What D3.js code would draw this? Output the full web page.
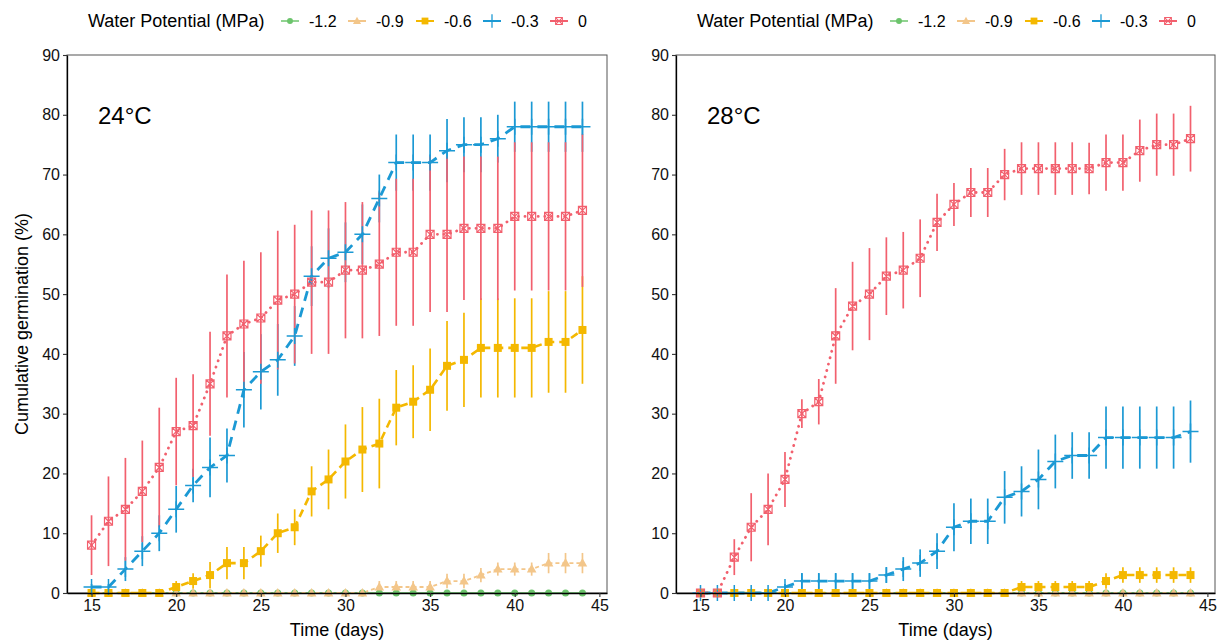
<html>
<head>
<meta charset="utf-8">
<script src="https://d3js.org/d3.v7.min.js"></script>
<style>
body { margin: 0; background: white; }
svg { font-family: Arial, "Liberation Sans", sans-serif; }
</style>
</head>
<body>
<svg id="chart" width="1222" height="641"></svg>
<script>
// days on the x axis
var days = [15,16,17,18,19,20,21,22,23,24,25,26,27,28,29,30,31,32,33,34,35,36,37,38,39,40,41,42,43,44];
var potentials = ['-1.2', '-0.9', '-0.6', '-0.3', '0'];
var xTicks = [15, 20, 25, 30, 35, 40, 45];
var yTicks = [0, 10, 20, 30, 40, 50, 60, 70, 80, 90];

// 24 C
var m24_12 = [0,0,0,0,0,0,0,0,0,0,0,0,0,0,0,0,0,0,0,0,0,0,0,0,0,0,0,0,0,0];
var e24_12 = [0,0,0,0,0,0,0,0,0,0,0,0,0,0,0,0,0,0,0,0,0,0,0,0,0,0,0,0,0,0];
var m24_09 = [0,0,0,0,0,0,0,0,0,0,0,0,0,0,0,0,0,1,1,1,1,2,2,3,4,4,4,5,5,5];
var e24_09 = [0,0,0,0,0,0,0,0,0,0,0,0,0,0,0,0,0,1,1,1,1,1.2,1.2,1.2,1.1,1.1,1.1,1.7,1.7,1.7];
var m24_06 = [0,0,0,0,0,1,2,3,5,5,7,10,11,17,19,22,24,25,31,32,34,38,39,41,41,41,41,42,42,44];
var e24_06 = [0,0,0,0,0,1,1.3,2.2,2.7,2.7,2.6,3.3,3,4.2,5,6.2,7.1,7.5,6.3,6.1,6.9,7.5,7.9,8.3,8.3,8.3,8.3,8.5,8.5,9];
var m24_03 = [1,1,4,7,10,14,18,21,23,34,37,39,43,53,56,57,60,66,72,72,72,74,75,75,76,78,78,78,78,78];
var e24_03 = [0.5,0.5,2,2.5,3,3.9,2.8,5,4.5,6.3,6.3,6,5,5,5,5,5,4,4.7,4.7,4.7,5.3,4.6,4.6,4,4.2,4.2,4.2,4.2,4.2];
var m24_0 = [8,12,14,17,21,27,28,35,43,45,46,49,50,52,52,54,54,55,57,57,60,60,61,61,61,63,63,63,63,64];
var e24_0 = [5,7.5,8.6,8.5,10,9,8.6,8.7,10.3,10.6,11,11.6,11.6,12,12,11.4,11.4,12,12.3,12.3,13,13,12,12,12,12.4,12.4,12.4,12.4,12.8];

// 28 C
var m28_12 = [0,0,0,0,0,0,0,0,0,0,0,0,0,0,0,0,0,0,0,0,0,0,0,0,0,0,0,0,0,0];
var e28_12 = [0,0,0,0,0,0,0,0,0,0,0,0,0,0,0,0,0,0,0,0,0,0,0,0,0,0,0,0,0,0];
var m28_09 = [0,0,0,0,0,0,0,0,0,0,0,0,0,0,0,0,0,0,0,0,0,0,0,0,0,0,0,0,0,0];
var e28_09 = [0,0,0,0,0,0,0,0,0,0,0,0,0,0,0,0,0,0,0,0,0,0,0,0,0,0,0,0,0,0];
var m28_06 = [0,0,0,0,0,0,0,0,0,0,0,0,0,0,0,0,0,0,0,1,1,1,1,1,2,3,3,3,3,3];
var e28_06 = [0,0,0,0,0,0,0,0,0,0,0,0,0,0,0,0,0,0,0,1,1,1,1,1,1.3,1.3,1.3,1.3,1.3,1.3];
var m28_03 = [0,0,0,0,0,1,2,2,2,2,2,3,4,5,7,11,12,12,16,17,19,22,23,23,26,26,26,26,26,27];
var e28_03 = [0,0,0,0,0,0.5,1.3,1.3,1.3,1.3,1.3,1.3,2,2.3,3,4,3.8,3.8,4.4,4.2,5,4.5,3.9,3.9,5.2,5.2,5.2,5.2,5.2,5.2];
var m28_0 = [0,0,6,11,14,19,30,32,43,48,50,53,54,56,62,65,67,67,70,71,71,71,71,71,72,72,74,75,75,76];
var e28_0 = [0,0.5,3,5.7,6,4.6,2.4,3.8,8,7.4,7.7,6.5,6.4,6.5,4.8,3.6,4.1,4.1,4.3,4.4,4.4,4.4,4.4,4.3,4.7,4.7,5.2,5.2,5.2,5.5];

// style per water potential
var colors = ['#6cc46c', '#f3c68a', '#f4b800', '#1b99d4', '#f2606e'];
var dashes = ['none', '4,3', '8,5', '10,7', '0.1,6.5'];
var lineWidths = [1.5, 1.8, 2.6, 2.8, 2.8];
var shapes = ['circle', 'triangle', 'square', 'plus', 'boxx'];

var panels = [
	{label: '24\u00B0C', left: 67, right: 607, means: [m24_12, m24_09, m24_06, m24_03, m24_0], errs: [e24_12, e24_09, e24_06, e24_03, e24_0]},
	{label: '28\u00B0C', left: 676, right: 1215, means: [m28_12, m28_09, m28_06, m28_03, m28_0], errs: [e28_12, e28_09, e28_06, e28_03, e28_0]}
];

var plotTop = 55, plotBottom = 593;
var svg = d3.select('#chart');

function drawShape(g, shape, color) {
	if (shape == 'circle') {
		g.append('circle').attr('r', 3.5).attr('fill', color);
	} else if (shape == 'triangle') {
		g.append('path').attr('d', 'M0,-5L4.8,3.5L-4.8,3.5Z').attr('fill', color);
	} else if (shape == 'square') {
		g.append('rect').attr('x', -4).attr('y', -4).attr('width', 8).attr('height', 8).attr('fill', color);
	} else if (shape == 'plus') {
		g.append('path').attr('d', 'M-8,0H8M0,-8V8').attr('stroke', color).attr('stroke-width', 1.5).attr('fill', 'none');
	} else {
		g.append('path').attr('d', 'M-4,-4H4V4H-4ZM-4,-4L4,4M4,-4L-4,4')
			.attr('stroke', color).attr('stroke-width', 1.2).attr('fill', 'none');
	}
}

panels.forEach(function(p, pi) {
	var x = d3.scaleLinear().domain([13.55, 45.45]).range([p.left, p.right]);
	var y = d3.scaleLinear().domain([0, 90]).range([plotBottom, plotTop]);
	var g = svg.append('g');

	// frame
	g.append('rect').attr('x', p.left).attr('y', plotTop)
		.attr('width', p.right - p.left).attr('height', plotBottom - plotTop)
		.attr('fill', 'none').attr('stroke', '#555').attr('stroke-width', 1);

	// error bars
	p.means.forEach(function(m, si) {
		g.append('g').selectAll('line').data(days).enter().append('line')
			.attr('x1', function(d) { return x(d); })
			.attr('x2', function(d) { return x(d); })
			.attr('y1', function(d, i) { return y(m[i] - p.errs[si][i]); })
			.attr('y2', function(d, i) { return y(m[i] + p.errs[si][i]); })
			.attr('stroke', colors[si]).attr('stroke-width', 1.7);
	});

	// lines
	p.means.forEach(function(m, si) {
		var line = d3.line().x(function(d) { return x(d); }).y(function(d, i) { return y(m[i]); });
		g.append('path').datum(days).attr('d', line)
			.attr('fill', 'none').attr('stroke', colors[si])
			.attr('stroke-width', lineWidths[si])
			.attr('stroke-dasharray', dashes[si])
			.attr('stroke-linecap', si == 4 ? 'round' : 'butt');
	});

	// points
	p.means.forEach(function(m, si) {
		days.forEach(function(d, i) {
			var pt = g.append('g').attr('transform', 'translate(' + x(d) + ',' + y(m[i]) + ')');
			drawShape(pt, shapes[si], colors[si]);
		});
	});

	// axes
	var ax = g.append('g').attr('transform', 'translate(0,' + plotBottom + ')')
		.call(d3.axisBottom(x).tickValues(xTicks).tickSize(4).tickSizeOuter(0).tickPadding(3));
	var ay = g.append('g').attr('transform', 'translate(' + p.left + ',0)')
		.call(d3.axisLeft(y).tickValues(yTicks).tickSize(4).tickSizeOuter(0).tickPadding(3));
	[ax, ay].forEach(function(a) {
		a.select('.domain').attr('stroke', '#000').attr('stroke-width', 1.3);
		a.selectAll('.tick line').attr('stroke', '#333').attr('stroke-width', 1.1);
		a.selectAll('text').attr('font-size', 16).attr('fill', '#111').attr('font-family', 'Arial, "Liberation Sans", sans-serif');
	});

	g.append('text').attr('x', (p.left + p.right) / 2).attr('y', 636)
		.attr('text-anchor', 'middle').attr('font-size', 18).text('Time (days)');

	g.append('text').attr('x', p.left + 31).attr('y', 124)
		.attr('font-size', 24).text(p.label);

	// legend
	var off = p.left - 67;
	var keyX = [290, 357, 425, 492, 559];
	var lg = svg.append('g').attr('transform', 'translate(' + off + ',0)');
	lg.append('text').attr('x', 88).attr('y', 27).attr('font-size', 18).text('Water Potential (MPa)');
	potentials.forEach(function(name, si) {
		lg.append('line').attr('x1', keyX[si] - 9).attr('x2', keyX[si] + 9)
			.attr('y1', 21).attr('y2', 21).attr('stroke', colors[si])
			.attr('stroke-width', si == 0 ? 1.5 : 2);
		var k = lg.append('g').attr('transform', 'translate(' + keyX[si] + ',21) scale(0.85)');
		drawShape(k, shapes[si], colors[si]);
		lg.append('text').attr('x', keyX[si] + 19).attr('y', 27).attr('font-size', 16).text(name);
	});
});

svg.append('text').attr('transform', 'translate(28,' + ((plotTop + plotBottom) / 2) + ') rotate(-90)')
	.attr('text-anchor', 'middle').attr('font-size', 18).text('Cumulative germination (%)');
</script>
</body>
</html>
